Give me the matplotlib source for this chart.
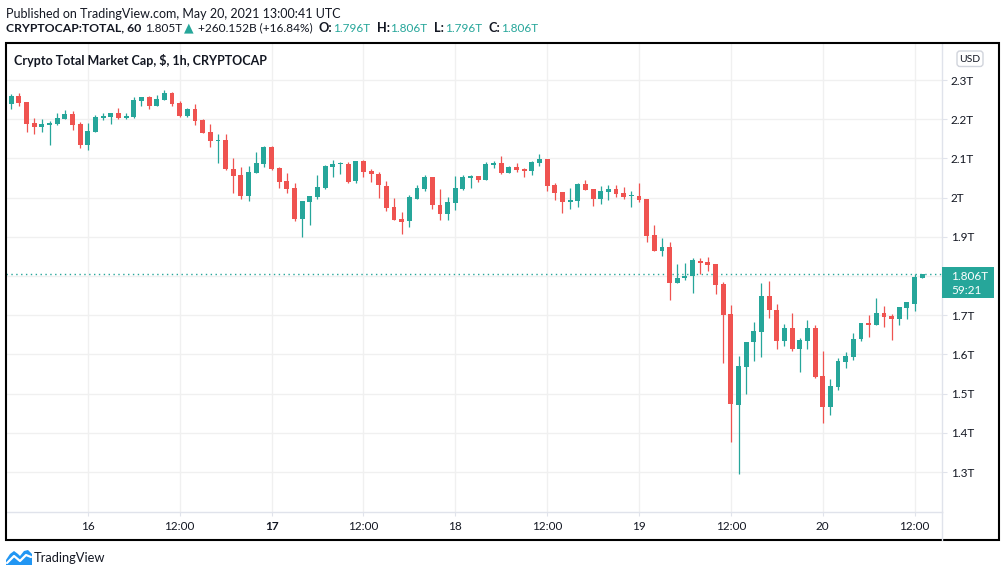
import numpy as np
import pandas as pd
import matplotlib
matplotlib.use("Agg")
import matplotlib.pyplot as plt
from matplotlib.patches import Rectangle, FancyBboxPatch, Polygon

# hourly candles, CRYPTOCAP:TOTAL, values in trillions of USD
times = pd.date_range("2021-05-15 14:00", periods=120, freq="h")
opens = [2.239, 2.259, 2.243, 2.190, 2.180, 2.186, 2.188, 2.200, 2.213, 2.187,
         2.135, 2.168, 2.203, 2.206, 2.215, 2.203, 2.206, 2.246, 2.256, 2.233,
         2.248, 2.266, 2.241, 2.208, 2.225, 2.197, 2.167, 2.145, 2.146, 2.072,
         2.058, 2.005, 2.064, 2.087, 2.129, 2.076, 2.042, 2.025, 1.945, 1.990,
         2.002, 2.025, 2.079, 2.086, 2.086, 2.043, 2.093, 2.068, 2.060, 2.030,
         1.976, 1.946, 1.941, 1.997, 2.023, 2.053, 1.981, 1.957, 1.987, 2.023,
         2.049, 2.056, 2.044, 2.084, 2.089, 2.063, 2.079, 2.073, 2.068, 2.089,
         2.099, 2.033, 2.015, 1.989, 1.992, 2.035, 2.022, 1.997, 2.015, 2.022,
         2.012, 2.003, 2.005, 1.997, 1.905, 1.865, 1.873, 1.781, 1.794, 1.799,
         1.838, 1.836, 1.831, 1.780, 1.703, 1.471, 1.568, 1.632, 1.657, 1.749,
         1.713, 1.634, 1.668, 1.614, 1.634, 1.668, 1.545, 1.466, 1.517, 1.581,
         1.594, 1.639, 1.680, 1.675, 1.706, 1.698, 1.690, 1.719, 1.729, 1.796]
highs = [2.264, 2.266, 2.243, 2.203, 2.200, 2.195, 2.215, 2.223, 2.220, 2.192,
         2.190, 2.210, 2.215, 2.215, 2.228, 2.215, 2.256, 2.256, 2.259, 2.261,
         2.274, 2.269, 2.246, 2.228, 2.238, 2.200, 2.187, 2.162, 2.162, 2.101,
         2.078, 2.081, 2.116, 2.132, 2.132, 2.078, 2.063, 2.037, 1.991, 2.004,
         2.058, 2.083, 2.096, 2.091, 2.091, 2.093, 2.096, 2.073, 2.065, 2.042,
         1.999, 1.963, 2.007, 2.032, 2.058, 2.053, 2.022, 2.002, 2.055, 2.058,
         2.058, 2.056, 2.091, 2.094, 2.107, 2.081, 2.089, 2.076, 2.094, 2.112,
         2.099, 2.038, 2.015, 2.025, 2.038, 2.045, 2.022, 2.030, 2.033, 2.033,
         2.028, 2.017, 2.038, 1.997, 1.931, 1.898, 1.886, 1.830, 1.832, 1.845,
         1.846, 1.849, 1.831, 1.785, 1.726, 1.596, 1.632, 1.683, 1.782, 1.787,
         1.729, 1.678, 1.706, 1.642, 1.688, 1.675, 1.609, 1.537, 1.591, 1.606,
         1.655, 1.680, 1.701, 1.744, 1.724, 1.703, 1.721, 1.734, 1.805, 1.806]
lows = [2.225, 2.234, 2.168, 2.163, 2.168, 2.135, 2.186, 2.200, 2.173, 2.127,
        2.122, 2.168, 2.198, 2.188, 2.201, 2.201, 2.203, 2.233, 2.226, 2.233,
        2.248, 2.233, 2.205, 2.205, 2.185, 2.165, 2.129, 2.089, 2.071, 2.012,
        1.997, 1.992, 2.064, 2.079, 2.071, 2.025, 2.013, 1.941, 1.900, 1.931,
        1.997, 2.023, 2.053, 2.061, 2.038, 2.036, 2.053, 2.041, 2.000, 1.967,
        1.944, 1.908, 1.926, 1.997, 2.018, 1.972, 1.944, 1.944, 1.969, 2.020,
        2.025, 2.039, 2.044, 2.076, 2.061, 2.063, 2.066, 2.053, 2.058, 2.081,
        2.017, 1.994, 1.961, 1.971, 1.977, 2.020, 1.979, 1.984, 1.994, 2.002,
        1.997, 1.977, 1.989, 1.886, 1.865, 1.850, 1.740, 1.781, 1.789, 1.756,
        1.805, 1.813, 1.754, 1.578, 1.377, 1.295, 1.499, 1.583, 1.594, 1.693,
        1.614, 1.622, 1.609, 1.555, 1.614, 1.540, 1.425, 1.446, 1.509, 1.566,
        1.586, 1.634, 1.645, 1.675, 1.670, 1.637, 1.675, 1.690, 1.711, 1.796]
closes = [2.259, 2.242, 2.188, 2.180, 2.187, 2.191, 2.203, 2.213, 2.186, 2.135,
          2.169, 2.205, 2.208, 2.215, 2.203, 2.208, 2.248, 2.256, 2.233, 2.251,
          2.266, 2.238, 2.208, 2.225, 2.195, 2.165, 2.145, 2.146, 2.072, 2.055,
          2.005, 2.065, 2.088, 2.129, 2.073, 2.041, 2.023, 1.945, 1.991, 2.004,
          2.027, 2.081, 2.086, 2.087, 2.041, 2.093, 2.066, 2.059, 2.031, 1.974,
          1.944, 1.939, 2.002, 2.025, 2.053, 1.982, 1.957, 1.989, 2.025, 2.053,
          2.056, 2.044, 2.086, 2.089, 2.063, 2.079, 2.071, 2.068, 2.091, 2.099,
          2.030, 2.012, 1.989, 1.994, 2.035, 2.020, 1.997, 2.017, 2.022, 2.010,
          2.002, 2.005, 1.994, 1.903, 1.865, 1.873, 1.781, 1.796, 1.799, 1.840,
          1.834, 1.828, 1.777, 1.701, 1.474, 1.571, 1.632, 1.660, 1.749, 1.713,
          1.634, 1.668, 1.614, 1.637, 1.668, 1.543, 1.466, 1.520, 1.583, 1.596,
          1.639, 1.680, 1.675, 1.706, 1.696, 1.690, 1.721, 1.734, 1.798, 1.806]

price_ticks = [1.3, 1.4, 1.5, 1.6, 1.7, 1.8, 1.9, 2.0, 2.1, 2.2, 2.3]
header_price = "1.805T"
header_change = "+260.152B (+16.84%)"
countdown = "59:21"

UP = "#26a69a"
DOWN = "#ef5350"
TEXT = "#131722"
GRID = "#f0f0f0"
SEP = "#e0e3eb"

W, H = 1006, 577
plt.rcParams["font.family"] = ["Lato", "DejaVu Sans"]

fig = plt.figure(figsize=(W / 100, H / 100), dpi=100)

# main pane: x from 6 to 941.7 px, y from 43 to 512.3 px
ax = fig.add_axes([6 / W, 1 - 512.3 / H, 935.7 / W, 469.3 / H])

o = np.array(opens)
hi = np.array(highs)
lo = np.array(lows)
c = np.array(closes)
x = np.arange(len(times))
colors = np.where(c >= o, UP, DOWN)

ax.vlines(x, lo, hi, colors=colors, lw=0.9, zorder=3)
ax.bar(x, np.maximum(np.abs(c - o), 0.003), bottom=np.minimum(o, c),
       width=0.64, color=colors, lw=0, zorder=4)

last = closes[-1]
ax.axhline(last, color=UP, ls=(0, (1, 2.5)), lw=1, zorder=2)

ax.set_xlim(-0.69, 121.54)
ax.set_ylim(1.1972, 2.3944)

tick_idx = [i for i, t in enumerate(times) if t.hour in (0, 12) and t.minute == 0]
tick_lab = [str(times[i].day) if times[i].hour == 0 else "12:00" for i in tick_idx]
ax.set_xticks(tick_idx)
ax.set_xticklabels(tick_lab)
for lab in ax.get_xticklabels():
    if lab.get_text() == "17":
        lab.set_fontweight("bold")

ax.yaxis.tick_right()
ax.set_yticks(price_ticks)
# the label nearest the last price sits under the price badge, so it is left empty
ax.set_yticklabels(["" if abs(v - last) < 0.03 else f"{v:g}T" for v in price_ticks])

ax.tick_params(axis="both", colors=SEP, labelcolor=TEXT, labelsize=8.5, width=0.8)
ax.tick_params(axis="y", length=3.6, pad=3)
ax.tick_params(axis="x", length=3, pad=3.5)

ax.grid(True, color=GRID, lw=1)
ax.set_axisbelow(True)
for side in ("left", "top"):
    ax.spines[side].set_visible(False)
for side in ("right", "bottom"):
    ax.spines[side].set_color(SEP)
    ax.spines[side].set_linewidth(1)

# overlay in pixel coordinates for the frame, labels and header
ov = fig.add_axes([0, 0, 1, 1], facecolor="none")
ov.set_xlim(0, W)
ov.set_ylim(H, 0)
ov.axis("off")

ov.plot([941.7, 941.7], [512.3, 540], color=SEP, lw=1)
ov.add_patch(Rectangle((6, 43), 993, 497, fill=False, ec="black", lw=1.5))

# last price label
ov.add_patch(Rectangle((941.7, 266.7), 52.3, 31.6, fc=UP, ec="none"))
ov.text(951, 276.5, f"{last:.3f}T", color="white", fontsize=8.5, va="center")
ov.text(951, 291, countdown, color="white", fontsize=8.5, va="center")

# currency badge
ov.add_patch(FancyBboxPatch((957, 51), 26, 15.5, boxstyle="round,pad=0,rounding_size=3",
                            fc="white", ec="#d1d4dc", lw=1))
ov.text(970, 59, "USD", color=TEXT, fontsize=7.5, ha="center", va="center")

ov.text(14, 65, "Crypto Total Market Cap, $, 1h, CRYPTOCAP", color=TEXT,
        fontsize=9, fontweight="bold", va="baseline")

ov.text(6, 18.3, "Published on TradingView.com, May 20, 2021 13:00:41 UTC",
        color=TEXT, fontsize=9.0, va="baseline")

renderer = fig.canvas.get_renderer()
pieces = [
    ("CRYPTOCAP:TOTAL, 60", TEXT, "bold", 8.8, 4),
    (header_price, TEXT, "normal", 8.5, 2),
    ("\u25b2", UP, "normal", 9, 4.5),
    (header_change, TEXT, "normal", 8.6, 5.5),
    ("O:", TEXT, "bold", 9.2, 0.8), (f"{opens[-1]:.3f}T", UP, "normal", 8.5, 6.5),
    ("H:", TEXT, "bold", 9.2, 0.8), (f"{highs[-1]:.3f}T", UP, "normal", 8.5, 6.5),
    ("L:", TEXT, "bold", 9.2, 0.8), (f"{lows[-1]:.3f}T", UP, "normal", 8.5, 6.5),
    ("C:", TEXT, "bold", 9.2, 0.8), (f"{closes[-1]:.3f}T", UP, "normal", 8.5, 0),
]
px = 6
for s, col, wt, fs, gap in pieces:
    t = ov.text(px, 31.7, s, color=col, fontsize=fs, fontweight=wt, va="baseline")
    px += t.get_window_extent(renderer=renderer).width + gap

# TradingView logo
ov.add_patch(Polygon([(6, 565), (6, 560), (10, 554), (14, 551), (18, 554), (20, 556),
                      (24, 551), (28, 550), (32, 554), (32, 565)],
                     closed=True, fc="#2196f3", ec="none"))
ov.plot([7, 14, 20, 26, 31], [563, 556, 561, 555, 557], color="white", lw=1.6,
        solid_capstyle="round")
ov.text(33.5, 558.5, "TradingView", color=TEXT, fontsize=9.3, va="center")

fig.savefig("out.png", dpi=100)
